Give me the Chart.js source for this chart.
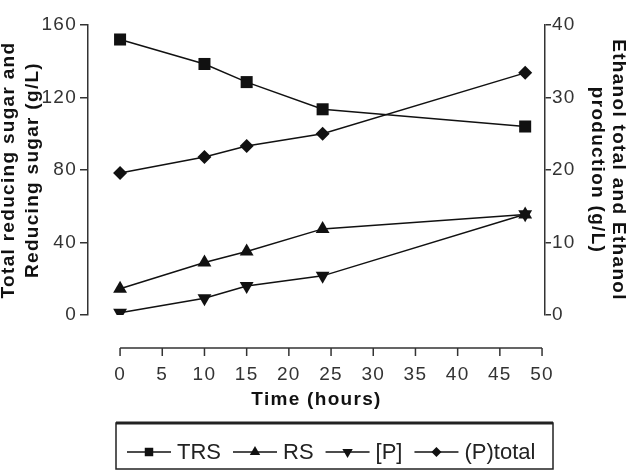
<!DOCTYPE html>
<html>
<head>
<meta charset="utf-8">
<script src="https://cdn.jsdelivr.net/npm/chart.js@4.4.1/dist/chart.umd.min.js"></script>
<style>
  html, body { margin: 0; padding: 0; background: #fff; }
</style>
</head>
<body>
<canvas id="chart" width="638" height="471"></canvas>
<script>
// data
const hours = [0, 10, 15, 24, 48];
const trs = [152, 138.5, 128.5, 113.5, 104];
const rs = [14.5, 29, 35, 47.5, 55.5];
const ethanol = [0.3, 2.3, 4, 5.4, 13.9];
const ethanolTotal = [19.6, 21.8, 23.3, 25, 33.4];

const xTicks = [0, 5, 10, 15, 20, 25, 30, 35, 40, 45, 50];
const sugarTicks = [0, 40, 80, 120, 160];
const ethanolTicks = [0, 10, 20, 30, 40];

const FONT = "'Liberation Sans', Arial, sans-serif";
const INK = "#111";

function pts(values) {
  return values.map((v, i) => ({ x: hours[i], y: v }));
}

function series(label, values, style, axis, rotation, radius) {
  return {
    label: label,
    data: pts(values),
    yAxisID: axis,
    borderColor: INK,
    backgroundColor: INK,
    borderWidth: 1.5,
    pointStyle: style,
    rotation: rotation,
    pointRadius: radius,
    pointBorderWidth: 0,
    pointBackgroundColor: INK,
    tension: 0
  };
}

// letter spacing of the original lettering
const spacing = {
  id: "spacing",
  beforeLayout(chart) { chart.ctx.letterSpacing = "1.3px"; },
  beforeDraw(chart) { chart.ctx.letterSpacing = "1.3px"; }
};

// the time axis sits detached below the plot
const timeAxis = {
  id: "timeAxis",
  afterDraw(chart) {
    const s = chart.scales.x;
    const ctx = chart.ctx;
    const y = chart.chartArea.bottom + 33;
    ctx.save();
    ctx.strokeStyle = "#333";
    ctx.lineWidth = 1.5;
    ctx.beginPath();
    ctx.moveTo(s.getPixelForValue(xTicks[0]), y);
    ctx.lineTo(s.getPixelForValue(xTicks[xTicks.length - 1]), y);
    s.ticks.forEach(t => {
      const x = s.getPixelForValue(t.value);
      ctx.moveTo(x, y);
      ctx.lineTo(x, y + 8);
    });
    ctx.stroke();
    ctx.restore();
  }
};

// boxed legend with line + marker glyphs
const boxLegend = {
  id: "boxLegend",
  afterDraw(chart) {
    const ctx = chart.ctx;
    const top = 423, bottom = 469, left = 116, right = 553;
    const cy = 452;
    ctx.save();
    ctx.letterSpacing = "0px";
    ctx.strokeStyle = "#222";
    ctx.lineWidth = 1.5;
    ctx.strokeRect(left, top, right - left, bottom - top);
    ctx.lineWidth = 3;
    ctx.beginPath();
    ctx.moveTo(left, top);
    ctx.lineTo(right, top);
    ctx.stroke();

    ctx.font = "22px " + FONT;
    ctx.textBaseline = "middle";
    ctx.textAlign = "left";
    let x = 127;
    chart.data.datasets.forEach(ds => {
      ctx.strokeStyle = INK;
      ctx.lineWidth = 1.5;
      ctx.beginPath();
      ctx.moveTo(x, cy);
      ctx.lineTo(x + 44, cy);
      ctx.stroke();
      ctx.fillStyle = INK;
      Chart.helpers.drawPoint(ctx, {
        pointStyle: ds.pointStyle,
        rotation: ds.rotation,
        radius: ds.pointStyle === "rectRot" ? 5 : 6,
        borderWidth: 0
      }, x + 22, cy);
      ctx.fillStyle = "#222";
      ctx.fillText(ds.label, x + 50, cy + 1);
      x += 50 + ctx.measureText(ds.label).width + 12;
    });
    ctx.restore();
  }
};

new Chart(document.getElementById("chart"), {
  type: "line",
  data: {
    datasets: [
      series("TRS", trs, "rect", "y", 0, 8.5),
      series("RS", rs, "triangle", "y", 0, 8),
      series("[P]", ethanol, "triangle", "y1", 180, 8),
      series("(P)total", ethanolTotal, "rectRot", "y1", 0, 7)
    ]
  },
  options: {
    responsive: false,
    animation: false,
    layout: { padding: { top: 25, left: 0, right: 0, bottom: 0 } },
    plugins: {
      legend: { display: false },
      tooltip: { enabled: false }
    },
    scales: {
      x: {
        type: "linear",
        min: -3.8,
        max: 50.35,
        afterBuildTicks: s => { s.ticks = xTicks.map(v => ({ value: v })); },
        afterFit: s => { s.height = 156; },
        border: { display: false },
        grid: { display: true, drawOnChartArea: false, drawTicks: true, tickLength: 48, color: "transparent" },
        ticks: { padding: 0, color: "#333", font: { family: FONT, size: 19 }, maxRotation: 0, autoSkip: false },
        title: {
          display: true,
          text: "Time (hours)",
          color: INK,
          font: { family: FONT, size: 19, weight: "bold" },
          padding: { top: 0, bottom: 60 }
        }
      },
      y: {
        position: "left",
        min: 0,
        max: 160,
        afterBuildTicks: s => { s.ticks = sugarTicks.map(v => ({ value: v })); },
        afterFit: s => { s.width = 88; },
        border: { display: true, color: "#333", width: 1.5 },
        grid: { drawOnChartArea: false, drawTicks: true, tickLength: 8, color: "#333", lineWidth: 1.5 },
        ticks: { padding: 3, color: "#333", font: { family: FONT, size: 19 } },
        title: {
          display: true,
          text: ["Total reducing sugar and", "Reducing sugar (g/L)"],
          color: INK,
          font: { family: FONT, size: 19, weight: "bold", lineHeight: 1.25 },
          padding: { top: -3, bottom: 0 }
        }
      },
      y1: {
        position: "right",
        min: 0,
        max: 40,
        afterBuildTicks: s => { s.ticks = ethanolTicks.map(v => ({ value: v })); },
        afterFit: s => { s.width = 93; },
        border: { display: true, color: "#333", width: 1.5 },
        grid: { drawOnChartArea: false, drawTicks: true, tickLength: 6, color: "#333", lineWidth: 1.5 },
        ticks: { padding: 1, color: "#333", font: { family: FONT, size: 19 } },
        title: {
          display: true,
          text: ["Ethanol total and Ethanol", "production (g/L)"],
          color: INK,
          font: { family: FONT, size: 19, weight: "bold", lineHeight: 1.1 },
          padding: { top: 9, bottom: 0 }
        }
      }
    }
  },
  plugins: [spacing, timeAxis, boxLegend]
});
</script>
</body>
</html>
